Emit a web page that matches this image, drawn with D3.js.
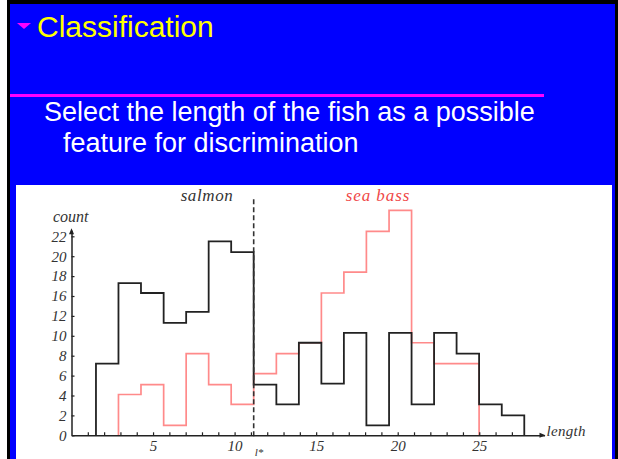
<!DOCTYPE html>
<html>
<head>
<meta charset="utf-8">
<script src="https://cdn.jsdelivr.net/npm/d3@7"></script>
<style>
  html, body { margin: 0; padding: 0; background: #fff; }
  svg { display: block; }
  .serif { font-family: "Liberation Serif", "DejaVu Serif", serif; font-style: italic; }
</style>
</head>
<body>
<svg id="slide" width="618" height="459"></svg>
<script>
// Histogram bins (fish length) and counts per bin
const binEdges = [1.50, 2.88, 4.26, 5.65, 7.03, 8.41, 9.79, 11.17, 12.56, 13.94,
                  15.32, 16.70, 18.08, 19.47, 20.85, 22.23, 23.61, 24.99, 26.38, 27.76];
const salmonCounts  = [7.2, 17.3, 16.3, 11.3, 12.8, 21.5, 20.4, 5.1, 3.1, 9.3,
                       5.2, 10.3, 1.0, 10.3, 3.1, 10.3, 8.2, 3.1, 2.0];
const seaBassCounts = [0, 4.1, 5.1, 1.0, 8.2, 5.1, 3.1, 6.2, 8.2, 9.3,
                       16.3, 18.4, 22.5, 24.6, 9.3, 7.2, 7.2, 0, 0];
const decisionBoundary = 11.17;   // l*

const xTickValues = d3.range(1, 28);
const xTickLabels = [5, 10, 15, 20, 25];
const yTickValues = [0, 2, 4, 6, 8, 10, 12, 16, 18, 20, 22];

const titleText = "Classification";
const bodyLines = ["Select the length of the fish as a possible", "feature for discrimination"];

const svg = d3.select("#slide");

// ---- slide frame ----
svg.append("rect").attr("x", 0).attr("y", 0).attr("width", 618).attr("height", 459).attr("fill", "#fff");
svg.append("rect").attr("x", 7).attr("y", 0).attr("width", 611).attr("height", 459).attr("fill", "#000");
svg.append("rect").attr("x", 10).attr("y", 4).attr("width", 605).attr("height", 455).attr("fill", "#0000ff");

// bullet + title
svg.append("path").attr("d", "M17,23 L31,23 L24,29 Z").attr("fill", "#ff00ff");
svg.append("text").attr("x", 37).attr("y", 37)
  .attr("font-family", "'Liberation Sans', Arial, sans-serif").attr("font-size", 30)
  .attr("fill", "#ffff00").text(titleText);

// divider rule
svg.append("rect").attr("x", 10).attr("y", 94).attr("width", 534).attr("height", 3).attr("fill", "#ff00ff");

// body text
svg.append("text").attr("x", 44).attr("y", 121)
  .attr("font-family", "'Liberation Sans', Arial, sans-serif").attr("font-size", 27)
  .attr("fill", "#fff").text(bodyLines[0]);
svg.append("text").attr("x", 63).attr("y", 152)
  .attr("font-family", "'Liberation Sans', Arial, sans-serif").attr("font-size", 27)
  .attr("fill", "#fff").text(bodyLines[1]);

// chart panel
svg.append("rect").attr("x", 16).attr("y", 185).attr("width", 596).attr("height", 274).attr("fill", "#fff");

// ---- scales ----
const x = d3.scaleLinear().domain([0, 29]).range([71.5, 544.5]);
const step = 19.9;          // spacing between labelled y ticks
const y0 = 435.3;
// labels jump from 12 to 16 in one step, so the count scale is piecewise
const y = d3.scaleLinear()
  .domain([0, 12, 16, 22.6])
  .range([y0, y0 - 6 * step, y0 - 7 * step, y0 - 10.3 * step]);

const ink = "#222";
const seaBassColor = "#ff8a8a";

// ---- histogram outlines ----
function outline(counts) {
  let first = counts.findIndex(v => v > 0);
  let last = counts.length - 1;
  while (counts[last] <= 0) last--;
  const pts = [[binEdges[first], 0]];
  for (let i = first; i <= last; i++) {
    pts.push([binEdges[i], counts[i]]);
    pts.push([binEdges[i + 1], counts[i]]);
  }
  pts.push([binEdges[last + 1], 0]);
  return pts;
}
const line = d3.line().x(d => x(d[0])).y(d => y(d[1]));

const plot = svg.append("g");
plot.append("path").attr("d", line(outline(seaBassCounts)))
  .attr("fill", "none").attr("stroke", seaBassColor).attr("stroke-width", 1.7);
plot.append("path").attr("d", line(outline(salmonCounts)))
  .attr("fill", "none").attr("stroke", ink).attr("stroke-width", 1.8);

// decision boundary
plot.append("line")
  .attr("x1", x(decisionBoundary)).attr("x2", x(decisionBoundary))
  .attr("y1", y(22.6) - 31).attr("y2", y0 + 2)
  .attr("stroke", "#333").attr("stroke-width", 1.6).attr("stroke-dasharray", "5,3");

// ---- axes ----
const xAxis = d3.axisBottom(x)
  .tickValues(xTickValues)
  .tickSize(-3).tickSizeOuter(0).tickPadding(5)
  .tickFormat(d => xTickLabels.includes(d) ? d : "");
const gx = svg.append("g").attr("transform", `translate(0,${y0})`).call(xAxis);

const yAxis = d3.axisLeft(y)
  .tickValues(yTickValues)
  .tickSize(-3).tickSizeOuter(0).tickPadding(5);
const gy = svg.append("g").attr("transform", `translate(${x(0)},0)`).call(yAxis);

[gx, gy].forEach(g => {
  g.select(".domain").attr("stroke", ink).attr("stroke-width", 1.5);
  g.selectAll(".tick line").attr("stroke", ink).attr("stroke-width", 1.2);
  g.selectAll(".tick text")
    .attr("class", "serif").attr("font-size", 15).attr("fill", "#333");
});

// arrowheads
const xEnd = x.range()[1], yTop = y.range()[3];
svg.append("path").attr("d", `M${xEnd + 1},${y0} L${xEnd - 5},${y0 - 2.5} L${xEnd - 5},${y0 + 2.5} Z`).attr("fill", ink);
svg.append("path").attr("d", `M${x(0)},${yTop - 2} L${x(0) - 2.5},${yTop + 4} L${x(0) + 2.5},${yTop + 4} Z`).attr("fill", ink);

// ---- labels ----
svg.append("text").attr("class", "serif").attr("x", xEnd + 2).attr("y", y0 + 1)
  .attr("font-size", 15).attr("letter-spacing", 0.3).attr("fill", "#333").text("length");
svg.append("text").attr("class", "serif").attr("x", 53).attr("y", 222)
  .attr("font-size", 16).attr("fill", "#333").text("count");
svg.append("text").attr("class", "serif").attr("x", 207).attr("y", 201)
  .attr("text-anchor", "middle").attr("font-size", 17).attr("letter-spacing", 0.6)
  .attr("fill", "#333").text("salmon");
svg.append("text").attr("class", "serif").attr("x", 378).attr("y", 201)
  .attr("text-anchor", "middle").attr("font-size", 17).attr("letter-spacing", 0.9)
  .attr("fill", "#f04848").text("sea bass");
svg.append("text").attr("class", "serif").attr("x", x(decisionBoundary) + 1).attr("y", 456)
  .attr("font-size", 11).attr("fill", "#333").text("l*");
</script>
</body>
</html>
